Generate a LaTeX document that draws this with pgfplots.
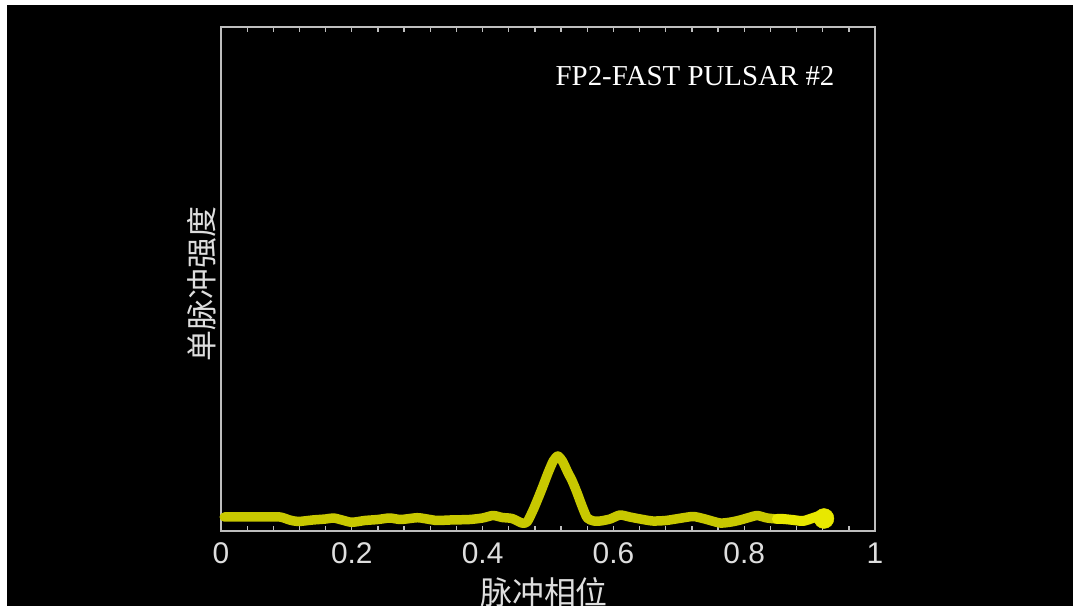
\documentclass[border=0pt]{standalone}
\usepackage{pgfplots}
\pgfplotsset{compat=1.18}
\usepackage{fontspec}
\setmainfont{Liberation Sans}
\newfontfamily\cjk{Noto Sans CJK SC}
\newfontfamily\titlefont{Liberation Serif}

\definecolor{frame}{RGB}{190,190,190}
\definecolor{ticktext}{RGB}{222,222,222}
\definecolor{pulse}{RGB}{200,200,0}
\definecolor{pulsebright}{RGB}{232,232,0}

% phase, intensity (arbitrary units)
\pgfplotstableread{
x y
0.005 14
0.03 14
0.06 14
0.09 14
0.105 11
0.118 9.5
0.14 11
0.16 12
0.172 13
0.185 11
0.20 8.7
0.22 10.5
0.24 11.5
0.258 13
0.275 11.5
0.30 13.3
0.315 12
0.33 10.5
0.35 11
0.38 11.5
0.40 13
0.416 15.5
0.43 13.5
0.445 12.5
0.46 8
0.468 9
0.478 22
0.49 41
0.50 58
0.508 70
0.515 75
0.522 70
0.53 59
0.537 50
0.544 39
0.552 25
0.56 13
0.57 10
0.58 10
0.595 12
0.61 16
0.625 14
0.641 12
0.66 10
0.68 10.5
0.70 12.5
0.722 14.5
0.74 12
0.763 8
0.78 9
0.794 11
0.81 14
0.82 15.5
0.835 13
0.85 12
}\pulsemain

\pgfplotstableread{
x y
0.85 12
0.86 12
0.875 11
0.89 10
0.905 13
0.915 15
0.922 13.5
}\pulsetail

\pgfplotstableread{
x y
0.922 12.5
}\pulseend

\begin{document}
\begin{tikzpicture}
\path[use as bounding box] (0,0) rectangle (1073bp,606bp);
\clip (0,0) rectangle (1073bp,606bp);
\fill[white] (0,0) rectangle (1073bp,606bp);
\fill[black] (7bp,0) rectangle (1073bp,601bp);
\begin{axis}[
  at={(221bp,75bp)}, anchor=south west,
  scale only axis, width=654bp, height=504bp,
  xmin=0, xmax=1, ymin=0, ymax=504,
  axis line style={frame, line width=1.6bp},
  xtick={0,0.2,0.4,0.6,0.8,1},
  xticklabels={0,0.2,0.4,0.6,0.8,1},
  minor x tick num=4,
  ytick=\empty,
  tick align=inside,
  major tick length=5bp, minor tick length=5bp,
  every tick/.style={frame, line width=1.3bp},
  xtick pos=both,
  xticklabel style={font=\fontsize{30}{33}\selectfont, text=ticktext, yshift=-8bp},
  xlabel={\cjk 脉冲相位},
  xlabel style={at={(rel axis cs:0.5,0)}, anchor=base, yshift=-73bp, xshift=-4bp,
    font=\fontsize{32}{36}\selectfont, text=ticktext},
  ylabel={\cjk 单脉冲强度},
  ylabel style={at={(rel axis cs:0,0.5)}, anchor=base, rotate=0, xshift=-5bp, yshift=8bp,
    font=\fontsize{31}{34}\selectfont, text=ticktext},
  clip=false,
]
\addplot[pulse, line width=9.5bp, line join=round, line cap=round, smooth, tension=0.4]
  table[x=x, y=y] {\pulsemain};
\addplot[pulsebright, line width=10bp, line join=round, line cap=round, smooth, tension=0.4]
  table[x=x, y=y] {\pulsetail};
\addplot[only marks, mark=*, mark size=10bp, pulsebright, mark options={draw=pulsebright, fill=pulsebright}]
  table[x=x, y=y] {\pulseend};
\node[anchor=base east, text=white, font=\titlefont\fontsize{29}{32}\selectfont]
  at (rel axis cs:0.9434,0.8849) {FP2-FAST PULSAR \#2};
\end{axis}
\end{tikzpicture}
\end{document}
